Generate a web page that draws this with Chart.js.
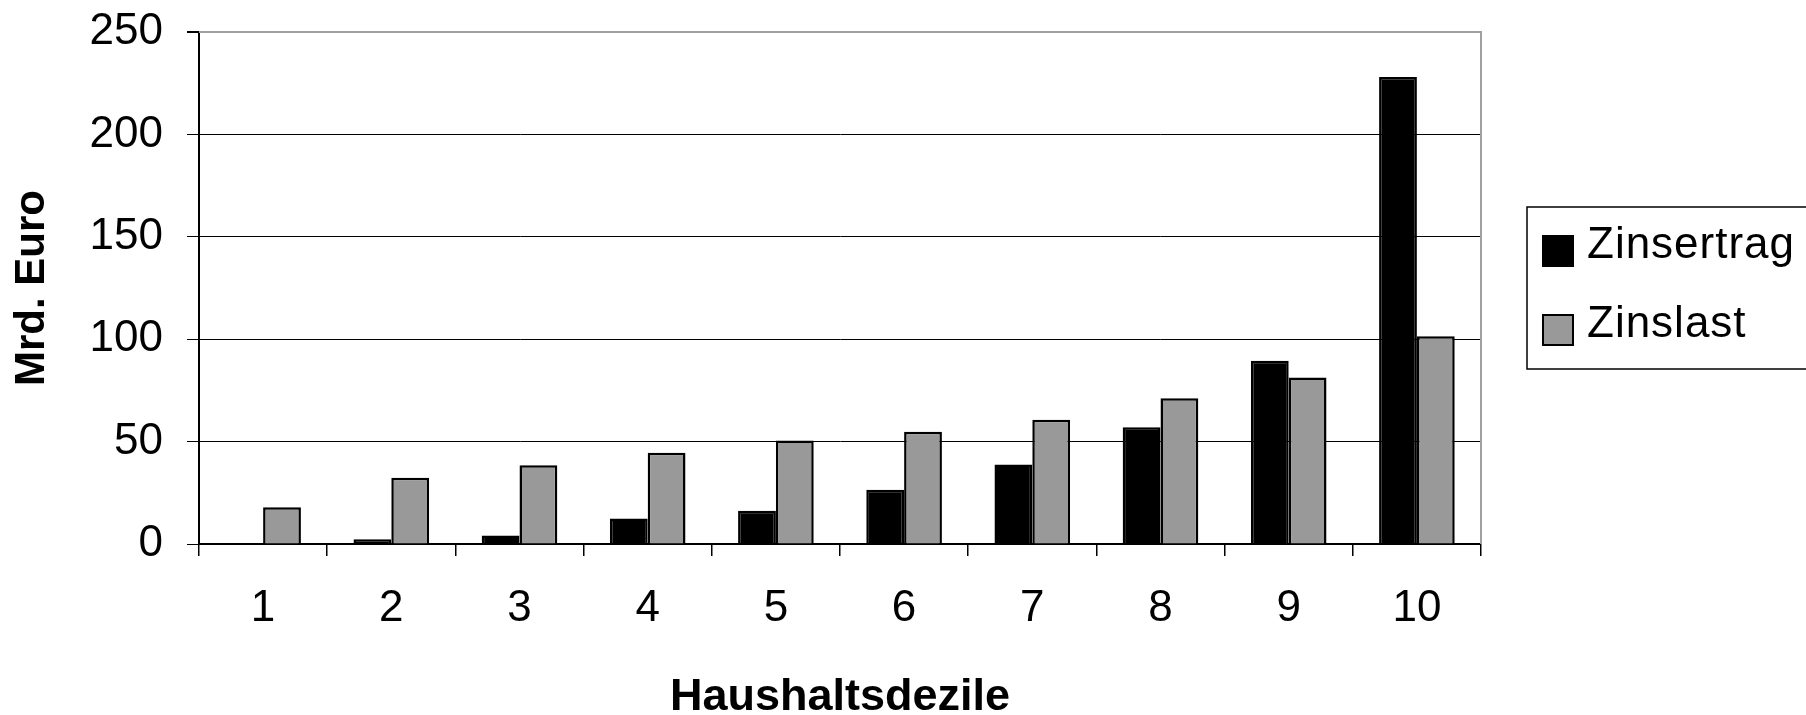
<!DOCTYPE html>
<html>
<head>
<meta charset="utf-8">
<script src="https://cdn.jsdelivr.net/npm/chart.js@4.4.1/dist/chart.umd.min.js"></script>
<style>
  html, body { margin: 0; padding: 0; background: #fff; }
  #wrap { width: 1806px; height: 715px; }
</style>
</head>
<body>
<div id="wrap"><canvas id="chart" width="1806" height="715"></canvas></div>
<script>
// Haushaltsdezile 1..10, Mrd. Euro
const deciles = ['1', '2', '3', '4', '5', '6', '7', '8', '9', '10'];
const zinsertrag = [0, 2.3, 4.2, 12.5, 16.2, 26.5, 38.8, 57, 89.5, 228];
const zinslast = [18, 32.4, 38.5, 44.5, 50.5, 54.8, 60.7, 71.2, 81.3, 101.5];
const yTicks = [0, 50, 100, 150, 200, 250];

const FONT = "'Liberation Sans', Arial, sans-serif";

// grey frame on top/right of the plot area and the boxed legend at the right
const frameAndLegend = {
  id: 'frameAndLegend',
  afterDraw(chart) {
    const { ctx, chartArea } = chart;
    ctx.save();
    ctx.strokeStyle = '#a0a0a0';
    ctx.lineWidth = 2;
    ctx.beginPath();
    ctx.moveTo(chartArea.left, chartArea.top);
    ctx.lineTo(chartArea.right, chartArea.top);
    ctx.lineTo(chartArea.right, chartArea.bottom);
    ctx.stroke();

    // legend box
    const lx = chartArea.right + 46;
    const ly = chartArea.top + 175;
    ctx.strokeStyle = '#000';
    ctx.lineWidth = 1.5;
    ctx.strokeRect(lx, ly, 400, 162);

    ctx.font = '44px ' + FONT;
    ctx.textBaseline = 'middle';
    ctx.textAlign = 'left';
    ctx.letterSpacing = '1px';
    chart.data.datasets.forEach((ds, i) => {
      const y = ly + 29 + i * 79;
      ctx.fillStyle = ds.backgroundColor;
      ctx.fillRect(lx + 16, y, 30, 30);
      ctx.strokeStyle = '#000';
      ctx.lineWidth = 2;
      ctx.strokeRect(lx + 16, y, 30, 30);
      ctx.fillStyle = '#000';
      ctx.fillText(ds.label, lx + 60, y + 10);
    });
    ctx.restore();
  }
};

new Chart(document.getElementById('chart'), {
  type: 'bar',
  data: {
    labels: deciles,
    datasets: [
      {
        label: 'Zinsertrag',
        data: zinsertrag,
        backgroundColor: '#000000',
        borderColor: '#000000',
        borderWidth: 2.5
      },
      {
        label: 'Zinslast',
        data: zinslast,
        backgroundColor: '#999999',
        borderColor: '#000000',
        borderWidth: 2.5
      }
    ]
  },
  options: {
    responsive: false,
    devicePixelRatio: 1,
    animation: false,
    layout: {
      padding: { left: 0, top: 32, right: 325, bottom: 0 }
    },
    datasets: {
      bar: {
        barPercentage: 1,
        categoryPercentage: 0.59
      }
    },
    plugins: {
      legend: { display: false },
      tooltip: { enabled: false }
    },
    scales: {
      x: {
        grid: {
          display: true,
          drawOnChartArea: false,
          drawTicks: true,
          tickLength: 12,
          color: '#000',
          lineWidth: 1.5
        },
        border: { color: '#000', width: 2 },
        ticks: {
          color: '#000',
          font: { size: 44, family: FONT },
          padding: 26,
          maxRotation: 0
        },
        title: {
          display: true,
          text: 'Haushaltsdezile',
          color: '#000',
          font: { size: 45, weight: 'bold', family: FONT, lineHeight: 1 },
          padding: { top: 0, bottom: -5 }
        },
        afterFit(scale) { scale.height = 171; }
      },
      y: {
        min: 0,
        max: 250,
        afterBuildTicks(scale) {
          scale.ticks = yTicks.map(v => ({ value: v }));
        },
        grid: {
          color: c => (c.tick && c.tick.value === 250 ? '#a0a0a0' : '#000'),
          lineWidth: c => (c.tick && c.tick.value === 250 ? 2 : 1),
          tickColor: '#000',
          tickLength: 12,
          drawTicks: true
        },
        border: { color: '#000', width: 2 },
        ticks: {
          color: '#000',
          font: { size: 44, family: FONT },
          padding: 24
        },
        title: {
          display: true,
          text: 'Mrd. Euro',
          color: '#000',
          font: { size: 42, weight: 'bold', family: FONT },
          padding: { top: 7, bottom: 0 }
        },
        afterFit(scale) {
          // plot area edges are set by the layout padding, not by label overhang
          scale.width = 199;
          scale.paddingTop = 0;
          scale.paddingBottom = 0;
        }
      }
    }
  },
  plugins: [frameAndLegend]
});
</script>
</body>
</html>
